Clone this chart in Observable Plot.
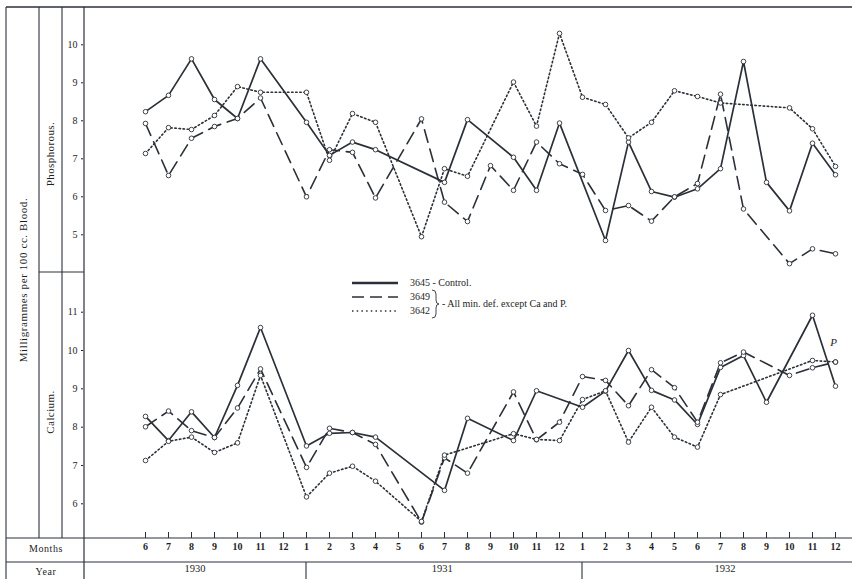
<!DOCTYPE html>
<html><head><meta charset="utf-8">
<script src="https://cdn.jsdelivr.net/npm/d3@7"></script>
<script src="https://cdn.jsdelivr.net/npm/@observablehq/plot@0.6"></script>
<style>
body{margin:0;background:#fff;}
#chart{position:relative;width:852px;height:579px;overflow:hidden;background:#fff;}
#chart > svg{position:absolute;left:0;}
#chart text{font-family:'Liberation Serif','DejaVu Serif',serif !important;}
</style></head><body><div id="chart"></div>
<script>
// ---- data ----
const monthLabels = [6,7,8,9,10,11,12, 1,2,3,4,5,6,7,8,9,10,11,12, 1,2,3,4,5,6,7,8,9,10,11,12];
const yearLabels = ["1930","1931","1932"];
const yearLabelAt = [2.15, 12.9, 25.2];
const pTicks = [5,6,7,8,9,10];
const caTicks = [6,7,8,9,10,11];
const seriesNames = ["3645 - Control.","3649","3642"];

// Phosphorous (mg per 100 cc blood), one value per month, null = no reading
const pControl = [8.24,8.67,9.63,8.56,8.06,9.63,null, 7.96,7.09,7.44,7.24,null,null,6.38,8.03,null,7.04,6.17,7.94, null,4.85,7.44,6.14,5.99,6.21,6.74,9.56,6.38,5.63,7.41,6.58];
const p3649    = [7.93,6.56,7.54,7.85,8.06,8.60,null, 6.00,7.24,7.17,5.97,null,8.05,5.86,5.35,6.82,6.17,7.44,6.87, 6.59,5.64,5.77,5.36,6.00,6.35,8.70,5.68,null,4.24,4.63,4.50];
const p3642    = [7.14,7.82,7.77,8.14,8.90,8.75,null, 8.75,6.96,8.19,7.96,null,4.95,6.74,6.54,null,9.02,7.86,10.30, 8.62,8.43,7.55,7.96,8.79,8.64,8.47,null,null,8.34,7.79,6.80];

// Calcium
const caControl = [8.28,7.65,8.40,7.73,9.09,10.60,null, 7.51,7.84,7.86,7.74,null,null,6.35,8.23,null,7.65,8.95,null, 8.52,8.94,10.00,8.96,8.71,8.07,9.56,9.87,8.65,null,10.92,9.07];
const ca3649    = [8.01,8.42,7.91,7.73,8.50,9.52,null, 6.95,7.97,7.86,7.55,null,5.52,7.20,6.80,null,8.92,7.67,8.13, 9.32,9.22,8.56,9.50,9.03,8.13,9.68,9.96,null,9.35,9.55,9.70];
const ca3642    = [7.13,7.63,7.74,7.34,7.59,9.35,null, 6.18,6.80,6.98,6.59,null,5.54,7.27,null,null,7.83,7.68,7.65, 8.72,8.95,7.61,8.52,7.74,7.48,8.85,null,null,null,9.74,9.70];

// ---- styles ----
const ink = "#2b3038";
const FONT = "'Liberation Serif', 'DejaVu Serif', serif";
const styles = [
  {dash: null, width: 1.7},
  {dash: "13,7", width: 1.6},
  {dash: "1.5,2.6", width: 1.6}
];
const X = {domain: [0, 30], range: [145, 835], axis: null};
const rows = arr => arr.map((v, i) => ({i, v})).filter(d => d.v != null);
const fixFont = svg => { d3.select(svg).selectAll("text, g").attr("font-family", FONT); return svg; };

function panel(sets, yOpts, top, height, extra = []) {
  const marks = [];
  sets.forEach((arr, k) => marks.push(Plot.line(rows(arr), {
    x: "i", y: "v", stroke: ink, strokeWidth: styles[k].width,
    strokeDasharray: styles[k].dash, strokeLinejoin: "miter"
  })));
  sets.forEach(arr => marks.push(Plot.dot(rows(arr), {
    x: "i", y: "v", r: 2.3, fill: "white", stroke: ink, strokeWidth: 0.9
  })));
  const svg = Plot.plot({
    width: 852, height, marginTop: 0, marginBottom: 0, marginLeft: 83, marginRight: 0,
    x: X,
    y: Object.assign({label: null, tickSize: 2, tickPadding: 4, tickFormat: d3.format("d")}, yOpts),
    style: {background: "transparent", fontFamily: FONT, fontSize: "10px", color: "#1e1e1e", overflow: "visible"},
    marks: marks.concat(extra)
  });
  svg.style.top = top + "px";
  return fixFont(svg);
}

const chart = document.getElementById("chart");

// Top panel: Phosphorous
chart.appendChild(panel([pControl, p3649, p3642],
  {domain: [5, 10], range: [234.3, 44.3], ticks: pTicks}, 0, 272));

// Bottom panel: Calcium
chart.appendChild(panel([caControl, ca3649, ca3642],
  {domain: [6, 11], range: [503.3 - 272, 311.7 - 272], ticks: caTicks}, 272, 266,
  [Plot.text([{i: 30, v: ca3649[30]}], {x: "i", y: "v", text: () => "P", dx: -2, dy: -20, fontStyle: "italic", fontSize: 11, fontFamily: FONT})]));

// Month / year rows
const monthRows = monthLabels.map((m, i) => ({i, m}));
const yearRows = yearLabels.map((y, k) => ({y, at: yearLabelAt[k]}));
const axisSvg = Plot.plot({
  width: 852, height: 47, marginTop: 0, marginBottom: 41, marginLeft: 83, marginRight: 0,
  x: X,
  style: {background: "transparent", fontFamily: FONT, fontSize: "10px", color: "#1e1e1e", overflow: "visible"},
  marks: [
    Plot.tickX(monthRows, {x: "i", stroke: ink, strokeWidth: 1}),
    Plot.text(monthRows, {x: "i", text: "m", frameAnchor: "bottom", dy: 11, fontSize: 10, fontFamily: FONT, fontWeight: "bold"}),
    Plot.text(yearRows, {x: "at", text: "y", frameAnchor: "bottom", dy: 33, fontSize: 10.5, fontFamily: FONT})
  ]
});
axisSvg.style.top = "532px";
chart.appendChild(fixFont(axisSvg));

// ---- frame, side labels, legend ----
const xs = d3.scaleLinear(X.domain, X.range);
const ov = d3.select(chart).append("svg")
  .attr("width", 852).attr("height", 579)
  .style("top", "0px").style("pointer-events", "none")
  .attr("font-family", FONT).style("fill", "#1e1e1e");
const g = ov.append("g").attr("stroke", ink).attr("stroke-width", 1.1).attr("fill", "none");
const seg = (x1, y1, x2, y2, w) => g.append("line").attr("x1", x1).attr("y1", y1).attr("x2", x2).attr("y2", y2).attr("stroke-width", w || 1.1);
seg(6, 7, 852, 7, 1.3);
seg(6, 7, 6, 579);
seg(39, 7, 39, 538);
seg(62, 7, 62, 538);
seg(84, 7, 84, 579, 1.2);
seg(39, 272, 84, 272);
seg(6, 538, 852, 538);
seg(6, 562, 852, 562);
monthLabels.forEach((m, i) => { if (m === 1) seg(xs(i), 562, xs(i), 579); });

const txt = (x, y, s, size, rot, anchor) => {
  const t = ov.append("text").attr("x", x).attr("y", y).attr("font-size", size)
    .attr("font-family", FONT)
    .attr("text-anchor", anchor || "middle").attr("dominant-baseline", "middle").text(s);
  if (rot) t.attr("transform", `rotate(-90 ${x} ${y})`);
  return t;
};
txt(24, 280, "Milligrammes per 100 cc. Blood.", 11, true).attr("letter-spacing", 0.6);
txt(51, 154, "Phosphorous.", 11, true).attr("letter-spacing", 0.4);
txt(51, 412, "Calcium.", 11, true).attr("letter-spacing", 0.4);
txt(46, 550, "Months", 10).attr("letter-spacing", 0.6);
txt(46, 573, "Year", 10).attr("letter-spacing", 0.6);

// legend
const legY = [283, 297, 311];
styles.forEach((s, k) => {
  const l = ov.append("line").attr("x1", 352).attr("x2", 398).attr("y1", legY[k]).attr("y2", legY[k])
    .attr("stroke", ink).attr("stroke-width", k === 0 ? 2.4 : 1.6);
  if (s.dash) l.attr("stroke-dasharray", k === 1 ? "12,6" : "1.5,3.2");
  txt(410, legY[k] + 0.5, seriesNames[k], 10, false, "start");
});
ov.append("path")
  .attr("d", "M432,290 Q436,290 436,294 L436,300 Q436,304 439,304 Q436,304 436,308 L436,314 Q436,318 432,318")
  .attr("fill", "none").attr("stroke", ink).attr("stroke-width", 0.9);
txt(442, 304.5, "- All min. def. except Ca and P.", 10, false, "start");
</script></body></html>
